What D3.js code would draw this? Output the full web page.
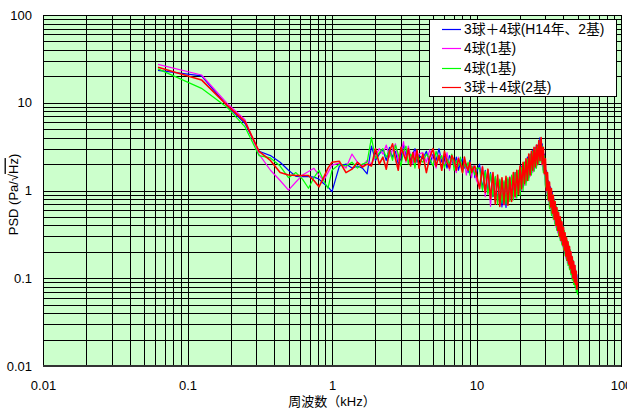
<!DOCTYPE html>
<html>
<head>
<meta charset="utf-8">
<script src="https://cdn.jsdelivr.net/npm/d3@7"></script>
<style>
  body { margin: 0; background: #fff; }
  text { font-family: "Liberation Sans", "Noto Sans CJK JP", sans-serif; }
</style>
</head>
<body>
<svg id="chart" width="627" height="410"></svg>
<script>
// frequency (kHz)
const freq = [
  0.0625, 0.125, 0.1875, 0.25, 0.3125, 0.375, 0.4375, 0.5, 0.5625, 0.625, 0.6875, 0.75, 0.8125, 0.875, 0.9375, 1.0,
  1.125, 1.25, 1.375, 1.5, 1.625, 1.75, 1.875, 2, 2.125, 2.25, 2.375, 2.5, 2.625, 2.75, 2.875, 3,
  3.125, 3.25, 3.375, 3.5, 3.625, 3.75, 3.875, 4,
  4.25, 4.5, 4.75, 5, 5.25, 5.5, 5.75, 6, 6.25, 6.5, 6.75, 7, 7.25, 7.5, 7.75, 8,
  8.25, 8.5, 8.75, 9, 9.25, 9.5, 9.75, 10,
  10.5, 11, 11.5, 12, 12.5, 13, 13.5, 14, 14.5, 15, 15.5, 16, 16.5, 17, 17.5, 18, 18.5, 19, 19.5, 20,
  20.5, 21, 21.5, 22, 22.5, 23, 23.5, 24, 24.5, 25, 25.5, 26, 26.5, 27, 27.5, 28, 28.5, 29, 29.5, 30,
  30.5, 31, 31.5, 32, 32.5, 33, 33.5, 34, 34.5, 35, 35.5, 36, 36.5, 37, 37.5, 38, 38.5, 39, 39.5, 40,
  40.5, 41, 41.5, 42, 42.5, 43, 43.5, 44, 44.5, 45, 45.5, 46, 46.5, 47, 47.5, 48, 48.5, 49, 49.5, 50
];

// PSD (Pa/√Hz)
const psdH14 = [
  23.4, 20.2, 9.3, 5.8, 2.8, 2.5, 2.1, 1.7, 1.45, 1.44, 1.44, 1.42, 1.35, 1.2, 1.1, 0.97,
  1.9, 2.0, 1.8, 1.9, 1.8, 1.55, 3.2, 2.2, 2.6, 2.9, 2.2, 3.1, 2.4, 2.8, 2.0, 2.3,
  3.3, 2.5, 2.9, 2.2, 2.6, 3.0, 2.1, 2.5,
  2.3, 2.8, 2.0, 2.6, 2.2, 3.0, 2.1, 2.4, 1.8, 2.5, 2.2, 1.9, 2.4, 1.7, 2.1, 2.3,
  1.8, 2.0, 1.6, 2.2, 1.7, 1.9, 1.4, 1.6,
  2.0, 1.05, 1.7, 0.95, 1.6, 0.85, 1.4, 0.75, 1.3, 0.65, 1.25, 0.64, 1.35, 0.8, 1.45, 0.85, 1.6, 0.9, 1.7, 0.95,
  1.9, 1.1, 2.1, 1.25, 2.4, 1.4, 2.6, 1.6, 2.9, 1.7, 3.1, 1.9, 3.3, 2.1, 4.0, 2.2, 3.4, 1.7, 2.6, 1.15,
  1.7, 0.85, 1.3, 0.66, 1.1, 0.55, 0.95, 0.5, 0.8, 0.42, 0.66, 0.36, 0.58, 0.31, 0.5, 0.28, 0.45, 0.25, 0.4, 0.22,
  0.34, 0.19, 0.29, 0.16, 0.26, 0.15, 0.23, 0.13, 0.21, 0.115, 0.18, 0.1, 0.16, 0.09, 0.14, 0.085, 0.125, 0.075, 0.11, 0.075
];
const psd4a = [
  27.4, 20.7, 9.9, 6.4, 2.6, 1.7, 1.3, 1.01, 1.25, 1.5, 1.65, 1.79, 1.5, 1.3, 1.6, 1.95,
  2.05, 1.8, 2.6, 2.1, 1.9, 2.2, 2.0, 2.5, 3.0, 2.6, 3.3, 2.4, 2.9, 3.4, 2.2, 2.7,
  3.6, 2.1, 3.2, 2.5, 2.0, 2.8, 2.3, 2.6,
  2.7, 2.1, 2.9, 2.3, 1.8, 2.6, 2.4, 2.0, 2.7, 1.7, 2.3, 2.0, 1.6, 2.4, 1.9, 1.7,
  2.2, 1.5, 2.0, 1.8, 1.4, 1.9, 1.6, 1.3,
  1.1, 1.9, 0.85, 1.7, 0.66, 1.5, 0.8, 1.4, 0.7, 1.3, 0.68, 1.35, 0.75, 1.45, 0.8, 1.55, 0.82, 1.65, 0.9, 1.8,
  1.0, 2.0, 1.15, 2.2, 1.3, 2.5, 1.45, 2.8, 1.6, 3.0, 1.8, 3.3, 1.95, 3.6, 2.3, 3.7, 1.9, 3.0, 1.5, 2.1,
  0.95, 1.5, 0.75, 1.2, 0.62, 1.0, 0.52, 0.85, 0.45, 0.72, 0.38, 0.62, 0.33, 0.54, 0.29, 0.48, 0.26, 0.42, 0.23, 0.37,
  0.2, 0.32, 0.17, 0.28, 0.15, 0.25, 0.14, 0.23, 0.125, 0.2, 0.11, 0.17, 0.1, 0.155, 0.09, 0.14, 0.08, 0.12, 0.075, 0.1
];
const psd4b = [
  24.3, 14.6, 8.9, 5.3, 2.5, 2.35, 1.9, 1.4, 1.6, 1.35, 1.06, 1.4, 1.7, 1.3, 1.06, 1.7,
  2.0, 1.9, 2.1, 1.8, 2.0, 2.1, 4.0, 2.3, 2.7, 3.0, 2.4, 2.9, 2.2, 3.3, 2.6, 1.9,
  2.8, 3.2, 2.0, 2.6, 2.4, 1.8, 2.7, 2.3,
  2.1, 2.6, 2.3, 1.9, 2.8, 2.2, 2.5, 1.8, 2.3, 2.0, 2.6, 1.7, 2.2, 1.9, 2.4, 1.6,
  2.0, 1.8, 2.1, 1.5, 1.9, 1.7, 1.5, 1.8,
  1.8, 1.0, 1.65, 0.9, 1.55, 0.85, 1.45, 0.7, 1.35, 0.72, 1.3, 0.7, 1.4, 0.75, 1.5, 0.78, 1.6, 0.82, 1.7, 0.88,
  1.85, 1.0, 2.1, 1.15, 2.3, 1.3, 2.6, 1.5, 2.8, 1.65, 3.0, 1.8, 3.2, 2.0, 3.5, 2.1, 3.2, 1.6, 2.5, 1.1,
  1.6, 0.8, 1.25, 0.62, 1.05, 0.52, 0.9, 0.47, 0.78, 0.4, 0.68, 0.35, 0.6, 0.3, 0.5, 0.27, 0.46, 0.24, 0.4, 0.21,
  0.35, 0.18, 0.3, 0.16, 0.27, 0.14, 0.24, 0.125, 0.21, 0.11, 0.18, 0.095, 0.16, 0.085, 0.14, 0.08, 0.12, 0.07, 0.1, 0.065
];
const psd34 = [
  25.4, 18.2, 9.4, 6.1, 2.8, 2.2, 1.6, 1.5, 1.48, 1.48, 1.48, 1.3, 1.1, 1.4, 1.8, 2.1,
  2.15, 1.6, 1.75, 2.1, 1.85, 2.0, 1.9, 3.0, 2.0, 2.4, 1.75, 2.8, 3.4, 2.3, 1.7, 3.1,
  2.6, 2.2, 3.0, 1.9, 2.7, 2.1, 2.9, 1.8,
  2.6, 1.6, 2.4, 3.0, 1.9, 2.5, 1.7, 2.8, 2.1, 1.8, 2.5, 2.2, 1.7, 2.3, 2.0, 1.6,
  2.4, 1.9, 1.7, 2.1, 1.6, 1.8, 1.9, 1.5,
  1.05, 1.85, 0.95, 1.75, 0.8, 1.6, 0.7, 1.5, 0.66, 1.4, 0.7, 1.45, 0.68, 1.4, 0.75, 1.6, 0.85, 1.7, 0.9, 1.9,
  1.05, 2.1, 1.2, 2.3, 1.3, 2.6, 1.5, 2.8, 1.7, 3.1, 1.85, 3.3, 2.0, 3.7, 2.2, 4.0, 2.0, 3.1, 1.55, 2.3,
  1.0, 1.6, 0.78, 1.25, 0.65, 1.05, 0.55, 0.88, 0.47, 0.75, 0.4, 0.64, 0.35, 0.56, 0.3, 0.5, 0.27, 0.44, 0.24, 0.38,
  0.21, 0.33, 0.18, 0.29, 0.16, 0.26, 0.145, 0.23, 0.13, 0.2, 0.115, 0.175, 0.1, 0.155, 0.09, 0.14, 0.085, 0.12, 0.075, 0.09
];

const seriesNames = ['3球＋4球(H14年、2基)', '4球(1基)', '4球(1基)', '3球＋4球(2基)'];
const seriesValues = [psdH14, psd4a, psd4b, psd34];
const colors = ['#0000ff', '#ff00ff', '#00ff00', '#ff0000'];
const strokeWidths = [1.2, 1.2, 1.2, 1.6];
const decadeTicks = [0.01, 0.1, 1, 10, 100];

const margin = { top: 15, right: 6, bottom: 44, left: 43 };
const svgWidth = 627;
const svgHeight = 410;
const width = svgWidth - margin.left - margin.right;
const height = svgHeight - margin.top - margin.bottom;

const svg = d3.select('#chart');
const g = svg.append('g')
  .attr('transform', `translate(${margin.left}, ${margin.top})`);

const xScale = d3.scaleLog().domain([0.01, 100]).range([0, width]);
const yScale = d3.scaleLog().domain([0.01, 100]).range([height, 0]);

g.append('rect')
  .attr('width', width)
  .attr('height', height)
  .attr('fill', '#ccffcc');

// grid
const xGrid = g.append('g')
  .attr('transform', `translate(0, ${height})`)
  .call(d3.axisBottom(xScale).tickValues(xScale.ticks()).tickSize(-height).tickFormat(''));
const yGrid = g.append('g')
  .call(d3.axisLeft(yScale).tickValues(yScale.ticks()).tickSize(-width).tickFormat(''));
[xGrid, yGrid].forEach(gr => {
  gr.select('.domain').remove();
  gr.selectAll('line').attr('stroke', '#000').attr('stroke-width', 1).attr('shape-rendering', 'crispEdges');
});

// series
const line = d3.line()
  .x((d, i) => xScale(freq[i]))
  .y(d => yScale(d));

seriesValues.forEach((vals, k) => {
  g.append('path')
    .datum(vals)
    .attr('fill', 'none')
    .attr('stroke', colors[k])
    .attr('stroke-width', strokeWidths[k])
    .attr('stroke-linejoin', 'round')
    .attr('d', line);
});

// frame
g.append('rect')
  .attr('width', width)
  .attr('height', height)
  .attr('fill', 'none')
  .attr('stroke', '#000')
  .attr('shape-rendering', 'crispEdges');
g.append('line')
  .attr('x1', 0).attr('x2', width)
  .attr('y1', height).attr('y2', height)
  .attr('stroke', '#333')
  .attr('stroke-width', 2);

// axes labels
const xAxis = g.append('g')
  .attr('transform', `translate(0, ${height})`)
  .call(d3.axisBottom(xScale).tickValues(decadeTicks).tickSize(0).tickPadding(15)
    .tickFormat(d => String(d)));
const yAxis = g.append('g')
  .call(d3.axisLeft(yScale).tickValues(decadeTicks).tickSize(0).tickPadding(11)
    .tickFormat(d => String(d)));
[xAxis, yAxis].forEach(ax => {
  ax.select('.domain').remove();
  ax.selectAll('text')
    .attr('fill', '#000')
    .style('font-size', '13px')
    .style('font-family', '"Liberation Sans", "Noto Sans CJK JP", sans-serif');
});

svg.append('text')
  .attr('x', margin.left + width / 2)
  .attr('y', 406)
  .attr('text-anchor', 'middle')
  .style('font-size', '13px')
  .text('周波数（kHz）');

const yLabel = svg.append('text')
  .attr('transform', `translate(13, ${margin.top + height / 2 + 4}) rotate(-90)`)
  .attr('text-anchor', 'middle')
  .attr('dy', '0.35em')
  .style('font-size', '13px');
yLabel.append('tspan').text('PSD (Pa/√');
yLabel.append('tspan').style('text-decoration', 'overline').text('Hz');
yLabel.append('tspan').text(')');

// legend
const legend = svg.append('g');
legend.append('rect')
  .attr('x', 429.5).attr('y', 19.5)
  .attr('width', 187).attr('height', 77)
  .attr('fill', '#fff')
  .attr('stroke', '#000');
seriesNames.forEach((name, k) => {
  const yy = Math.round(29 + k * 19.4) + 0.5;
  legend.append('line')
    .attr('x1', 442).attr('x2', 461)
    .attr('y1', yy).attr('y2', yy)
    .attr('stroke', colors[k])
    .attr('stroke-width', 1.2);
  legend.append('text')
    .attr('x', 464).attr('y', yy)
    .attr('dy', '0.36em')
    .style('font-size', '13.8px')
    .text(name);
});
</script>
</body>
</html>
